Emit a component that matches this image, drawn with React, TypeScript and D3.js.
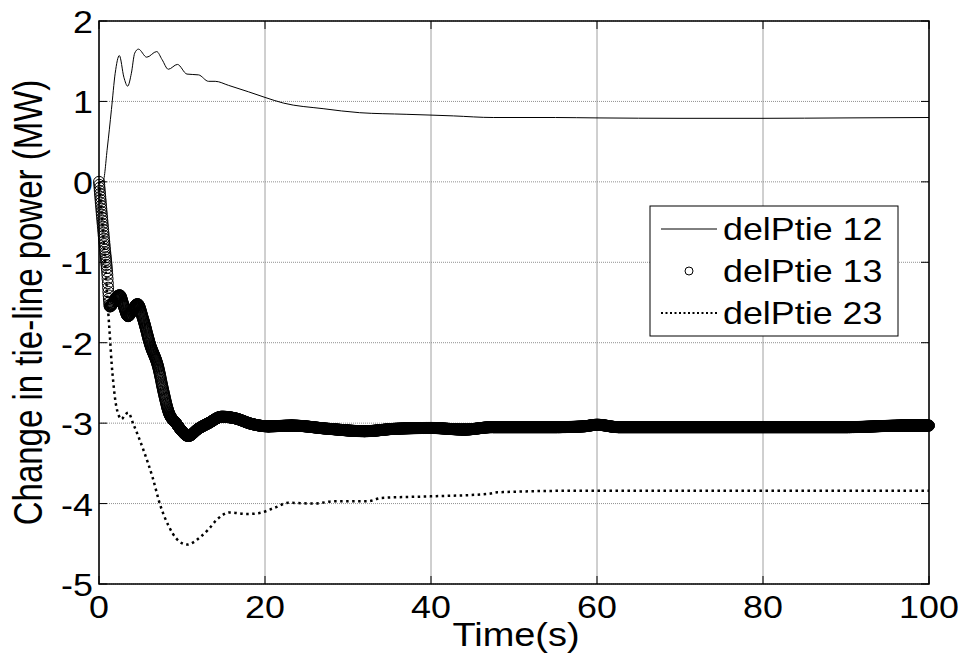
import React, { useEffect, useRef, useState } from "react";
import * as d3 from "d3";

const W = 964;
const H = 664;
const M = { left: 99, right: 929, top: 21, bottom: 584 };
const FONT = "'Liberation Sans', Arial, Helvetica, sans-serif";
const FS = 32;
const SX = 1.12;

const xTicks = [0, 20, 40, 60, 80, 100];
const yTicks = [2, 1, 0, -1, -2, -3, -4, -5];

const seriesNames = ["delPtie 12", "delPtie 13", "delPtie 23"];

// delPtie 12
const time12 = [0, 0.5, 1.0, 1.5, 1.95, 2.45, 3.0, 3.45, 3.9, 4.3, 4.75, 5.75, 6.95, 7.6, 8.35, 9.45, 10.6, 12.0, 13.2, 14.0, 15.6, 18.0, 20.0, 22.2, 27, 31.4, 37, 40, 42.7, 47.5, 50, 55, 60, 70, 80, 90, 100];
const delP12 = [0, 0.01, 0.42, 0.9, 1.35, 1.57, 1.3, 1.19, 1.35, 1.6, 1.65, 1.55, 1.62, 1.52, 1.4, 1.46, 1.34, 1.33, 1.25, 1.25, 1.2, 1.12, 1.05, 0.98, 0.91, 0.86, 0.84, 0.83, 0.82, 0.8, 0.8, 0.8, 0.795, 0.79, 0.79, 0.795, 0.8];

// delPtie 13
const time13 = [0, 0.3, 0.7, 1.0, 1.15, 1.3, 1.6, 2.0, 2.5, 3.0, 3.5, 4.0, 4.65, 5.3, 6.15, 7.15, 7.75, 8.35, 9.35, 10.0, 10.75, 11.95, 13.2, 14.8, 16.4, 18.4, 20.4, 23.2, 27.6, 32, 35.7, 40, 44, 47.4, 52, 55, 58.4, 60, 62.6, 70, 80, 90, 97, 100];
const delP13 = [0, -0.36, -0.82, -1.15, -1.4, -1.55, -1.52, -1.45, -1.41, -1.55, -1.67, -1.6, -1.52, -1.7, -2.02, -2.31, -2.6, -2.85, -3.01, -3.1, -3.16, -3.07, -3.0, -2.92, -2.94, -3.01, -3.04, -3.03, -3.07, -3.1, -3.07, -3.06, -3.08, -3.05, -3.05, -3.05, -3.04, -3.02, -3.05, -3.05, -3.05, -3.05, -3.03, -3.03];

// delPtie 23
const time23 = [0, 0.4, 0.8, 1.12, 1.33, 1.53, 1.73, 1.93, 2.33, 2.73, 3.1, 3.53, 4.13, 5.34, 6.5, 7.35, 8.4, 9.36, 10.6, 12.17, 13.2, 14.2, 15.8, 17.8, 19.2, 21.2, 22.8, 26.0, 28.4, 32.4, 34, 40, 46.9, 48, 57.8, 70, 80, 90, 100];
const delP23 = [0, -0.5, -1.1, -1.63, -1.95, -2.27, -2.5, -2.69, -2.89, -2.95, -2.9, -2.87, -3.01, -3.33, -3.69, -4.01, -4.28, -4.44, -4.51, -4.42, -4.32, -4.2, -4.11, -4.13, -4.12, -4.05, -3.99, -4.0, -3.97, -3.97, -3.93, -3.91, -3.88, -3.86, -3.84, -3.84, -3.84, -3.84, -3.84];

const zip = (a: number[], b: number[]): [number, number][] => a.map((v, i) => [v, b[i]]);

export default function App() {
  const x = d3.scaleLinear().domain([0, 100]).range([M.left, M.right]);
  const y = d3.scaleLinear().domain([-5, 2]).range([M.bottom, M.top]);
  const line = d3
    .line<[number, number]>()
    .x((d) => x(d[0]))
    .y((d) => y(d[1]))
    .curve(d3.curveMonotoneX);

  const d12 = line(zip(time12, delP12)) || "";
  const d13 = line(zip(time13, delP13)) || "";
  const d23 = line(zip(time23, delP23)) || "";

  const ref13 = useRef<SVGPathElement>(null);
  const [marks, setMarks] = useState<[number, number][]>([]);

  useEffect(() => {
    const p = ref13.current;
    if (!p) return;
    const L = p.getTotalLength();
    const out: [number, number][] = [];
    let lastX = -Infinity;
    for (let s = 0; s <= L; s += 0.25) {
      const pt = p.getPointAtLength(s);
      if (pt.x >= lastX + 0.25) {
        out.push([pt.x, pt.y]);
        lastX = pt.x;
      }
    }
    const e = p.getPointAtLength(L);
    out.push([e.x, e.y]);
    setMarks(out);
  }, []);

  const tk = 8;
  const legX = 650, legY = 206, legW = 248, legH = 130;
  const rowY = [229, 271, 313];

  return (
    <svg
      width={W}
      height={H}
      style={{ position: "absolute", left: 0, top: 0, background: "#fff" }}
      fontFamily={FONT}
    >
      <rect x={0} y={0} width={W} height={H} fill="#fff" />
      {/* grid */}
      {xTicks.map((t) => (
        <line key={"gx" + t} x1={x(t)} x2={x(t)} y1={M.top} y2={M.bottom} stroke="#a0a0a0" strokeWidth={1} />
      ))}
      {yTicks.map((t) => (
        <line key={"gy" + t} x1={M.left} x2={M.right} y1={y(t)} y2={y(t)} stroke="#909090" strokeWidth={1} strokeDasharray="1,1" />
      ))}
      {/* series */}
      <path d={d23} fill="none" stroke="#000" strokeWidth={2.5} strokeDasharray="2.5,3.5" />
      <path ref={ref13} d={d13} fill="none" stroke="none" />
      <g fill="none" stroke="#000" strokeWidth={1}>
        {marks.map((m, i) => (
          <circle key={i} cx={m[0]} cy={m[1]} r={5.5} />
        ))}
      </g>
      <path d={d12} fill="none" stroke="#000" strokeWidth={1} />
      {/* ticks */}
      <g stroke="#000" strokeWidth={1}>
        {xTicks.map((t) => (
          <g key={"tx" + t}>
            <line x1={x(t)} x2={x(t)} y1={M.bottom} y2={M.bottom - tk} />
            <line x1={x(t)} x2={x(t)} y1={M.top} y2={M.top + tk} />
          </g>
        ))}
        {yTicks.map((t) => (
          <g key={"ty" + t}>
            <line x1={M.left} x2={M.left + tk} y1={y(t)} y2={y(t)} />
            <line x1={M.right} x2={M.right - tk} y1={y(t)} y2={y(t)} />
          </g>
        ))}
      </g>
      {/* box */}
      <rect x={M.left} y={M.top} width={M.right - M.left} height={M.bottom - M.top} fill="none" stroke="#000" strokeWidth={1.5} />
      {/* tick labels */}
      {xTicks.map((t) => (
        <text key={"lx" + t} transform={`translate(${x(t)},${M.bottom + 34}) scale(${SX},1)`} textAnchor="middle" fontSize={FS}>
          {t}
        </text>
      ))}
      {yTicks.map((t) => (
        <text key={"ly" + t} transform={`translate(${M.left - 6},${y(t) + 12}) scale(${SX},1)`} textAnchor="end" fontSize={FS}>
          {t}
        </text>
      ))}
      {/* axis labels */}
      <text transform={`translate(${(M.left + M.right) / 2 + 2},${646}) scale(1.15,1)`} textAnchor="middle" fontSize={33}>
        Time(s)
      </text>
      <text transform={`translate(42,${(M.top + M.bottom) / 2}) scale(1.25,1) rotate(-90)`} textAnchor="middle" fontSize={33}>
        Change in tie-line power (MW)
      </text>
      {/* legend */}
      <rect x={legX} y={legY} width={legW} height={legH} fill="#fff" stroke="#000" strokeWidth={1} />
      <line x1={661} x2={717} y1={rowY[0]} y2={rowY[0]} stroke="#000" strokeWidth={1} />
      <circle cx={689} cy={rowY[1]} r={4} fill="none" stroke="#000" strokeWidth={1} />
      <line x1={661} x2={717} y1={rowY[2]} y2={rowY[2]} stroke="#000" strokeWidth={2} strokeDasharray="2,2.5" />
      {seriesNames.map((n, i) => (
        <text key={n} transform={`translate(723,${rowY[i] + 11}) scale(${SX},1)`} fontSize={FS}>
          {n}
        </text>
      ))}
    </svg>
  );
}
